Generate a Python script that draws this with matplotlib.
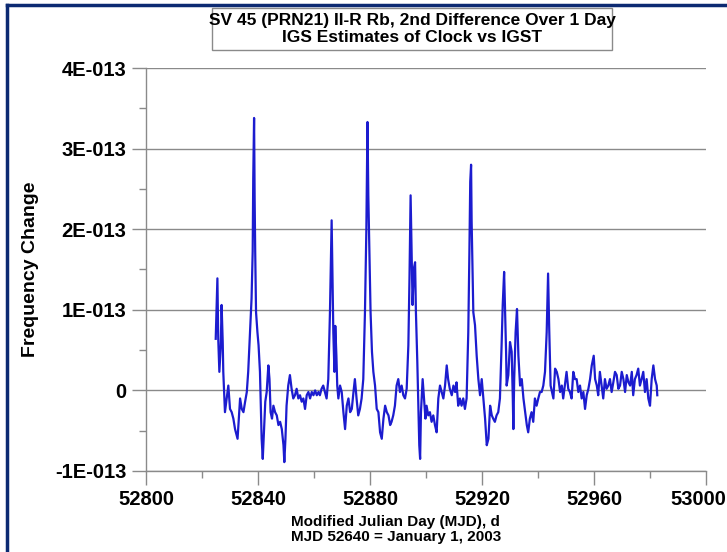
import matplotlib
matplotlib.use("Agg")
import matplotlib.pyplot as plt
import matplotlib.transforms as mtransforms
from matplotlib.lines import Line2D
from matplotlib.patches import Rectangle
import numpy as np

# MJD of each sample
mjd = [
    52824.9, 52825.5, 52825.8, 52826.2, 52826.7, 52827.0, 52827.4, 52827.6, 52827.9, 52828.2,
    52828.8, 52829.4, 52830.0, 52830.6, 52831.2, 52831.8, 52832.4, 52832.7, 52833.0, 52833.6,
    52834.2, 52834.8, 52835.4, 52836.0, 52836.5, 52837.1, 52837.7, 52838.1, 52838.3, 52838.6,
    52838.8, 52839.0, 52839.3, 52839.8, 52840.2, 52840.7, 52840.9, 52841.3, 52841.7, 52842.1,
    52842.6, 52843.1, 52843.7, 52844.1, 52844.5, 52845.0, 52845.5, 52846.1, 52846.7, 52847.3,
    52847.9, 52848.5, 52849.1, 52849.4, 52849.8, 52850.2, 52850.8, 52851.4, 52852.0, 52852.6,
    52853.2, 52853.8, 52854.4, 52855.0, 52855.6, 52856.2, 52856.8, 52857.4, 52858.0, 52858.6,
    52859.2, 52859.8, 52860.4, 52861.0, 52861.6, 52862.1, 52862.7, 52863.3, 52863.9, 52864.5,
    52865.1, 52865.7, 52866.3, 52866.7, 52866.9, 52867.3, 52867.6, 52868.0, 52868.3, 52868.7,
    52869.3, 52869.9, 52870.5, 52871.1, 52871.7, 52872.3, 52872.9, 52873.5, 52874.1, 52874.6,
    52875.2, 52875.8, 52876.4, 52877.0, 52877.6, 52878.2, 52878.7, 52879.1, 52879.4, 52879.8,
    52880.2, 52880.7, 52881.2, 52881.8, 52882.4, 52883.0, 52883.6, 52884.2, 52884.8, 52885.4,
    52886.0, 52886.6, 52887.2, 52887.7, 52888.3, 52888.9, 52889.5, 52890.1, 52890.7, 52891.3,
    52891.9, 52892.5, 52893.1, 52893.7, 52894.1, 52894.5, 52894.9, 52895.2, 52895.7, 52896.1,
    52896.4, 52896.9, 52897.3, 52897.6, 52897.9, 52898.2, 52898.8, 52899.3, 52899.8, 52900.2,
    52900.8, 52901.4, 52902.0, 52902.6, 52903.2, 52903.8, 52904.4, 52905.0, 52905.6, 52906.2,
    52906.8, 52907.4, 52907.9, 52908.5, 52909.2, 52909.8, 52910.4, 52910.9, 52911.5, 52912.1,
    52912.7, 52913.3, 52913.9, 52914.5, 52915.1, 52915.5, 52915.8, 52916.1, 52916.3, 52916.7,
    52916.9, 52917.5, 52918.1, 52918.7, 52919.3, 52919.9, 52920.5, 52921.1, 52921.7, 52922.3,
    52922.9, 52923.5, 52924.0, 52924.6, 52925.2, 52925.8, 52926.4, 52927.0, 52927.4, 52927.9,
    52928.2, 52928.6, 52928.8, 52929.4, 52930.0, 52930.6, 52931.0, 52931.2, 52931.5, 52932.0,
    52932.5, 52933.0, 52933.6, 52934.2, 52934.8, 52935.4, 52936.0, 52936.5, 52937.1, 52937.7,
    52938.3, 52938.9, 52939.5, 52940.1, 52940.7, 52941.3, 52941.9, 52942.5, 52943.1, 52943.6,
    52944.0, 52944.5, 52945.0, 52945.5, 52946.1, 52946.7, 52947.3, 52947.9, 52948.5, 52949.0,
    52949.6, 52950.2, 52950.8, 52951.4, 52952.0, 52952.6, 52953.2, 52953.8, 52954.4, 52955.0,
    52955.6, 52956.2, 52956.8, 52957.4, 52958.0, 52958.6, 52959.2, 52959.9, 52960.4, 52961.0,
    52961.5, 52962.1, 52962.7, 52963.3, 52963.9, 52964.5, 52965.1, 52965.7, 52966.3, 52966.9,
    52967.5, 52968.1, 52968.7, 52969.3, 52969.9, 52970.5, 52971.1, 52971.7, 52972.3, 52972.9,
    52973.5, 52974.0, 52974.6, 52975.2, 52975.8, 52976.4, 52977.0, 52977.6, 52978.2, 52978.8,
    52979.4, 52980.0, 52980.6, 52981.2, 52981.8, 52982.4, 52982.6,
]

# frequency change in units of 1E-013
freq_e13 = [
    0.64, 1.39, 0.64, 0.23, 0.56, 1.06, 0.60, 0.23, -0.02, -0.27,
    -0.10, 0.06, -0.23, -0.27, -0.35, -0.48, -0.56, -0.60, -0.43, -0.10,
    -0.23, -0.27, -0.14, -0.02, 0.23, 0.68, 1.14, 1.72, 2.63, 3.38,
    2.38, 1.72, 0.97, 0.72, 0.56, 0.23, -0.06, -0.60, -0.85, -0.52,
    -0.14, -0.02, 0.31, 0.14, -0.27, -0.35, -0.19, -0.27, -0.31, -0.43,
    -0.39, -0.48, -0.68, -0.89, -0.60, -0.19, 0.06, 0.19, 0.02, -0.10,
    -0.06, 0.02, -0.10, -0.06, -0.14, -0.10, -0.23, -0.06, -0.02, -0.10,
    -0.02, -0.06, 0.00, -0.06, -0.02, -0.06, 0.02, 0.06, -0.02, -0.10,
    0.14, 0.97, 2.11, 1.22, 0.72, 0.23, 0.80, 0.43, 0.06, -0.10,
    0.06, -0.02, -0.27, -0.48, -0.19, -0.10, -0.27, -0.23, -0.02, 0.14,
    -0.10, -0.31, -0.23, -0.10, 0.14, 0.97, 2.00, 3.33, 2.42, 1.72,
    0.97, 0.48, 0.23, 0.06, -0.23, -0.27, -0.52, -0.60, -0.35, -0.19,
    -0.27, -0.31, -0.43, -0.39, -0.31, -0.19, 0.06, 0.14, -0.02, 0.06,
    -0.06, -0.10, 0.02, 0.56, 1.39, 2.42, 1.64, 1.06, 1.52, 1.59,
    0.97, 0.35, -0.27, -0.68, -0.85, -0.27, 0.14, -0.10, -0.35, -0.19,
    -0.31, -0.27, -0.39, -0.31, -0.43, -0.52, -0.10, 0.06, -0.02, -0.10,
    0.06, 0.31, 0.14, 0.02, -0.06, 0.06, -0.02, 0.10, -0.19, -0.10,
    -0.19, -0.10, -0.23, -0.10, 0.72, 1.72, 2.59, 2.80, 2.09, 1.30,
    0.97, 0.81, 0.43, 0.14, -0.06, 0.14, -0.10, -0.35, -0.68, -0.60,
    -0.19, -0.31, -0.35, -0.39, -0.31, -0.27, -0.10, 0.56, 1.06, 1.47,
    1.06, 0.48, 0.06, 0.19, 0.60, 0.48, -0.10, -0.48, 0.14, 0.72,
    1.01, 0.43, 0.06, 0.14, -0.10, -0.27, -0.43, -0.52, -0.35, -0.27,
    -0.39, -0.10, -0.19, -0.10, -0.02, -0.02, 0.06, 0.23, 0.72, 1.45,
    0.77, 0.06, -0.02, -0.10, 0.27, 0.23, 0.14, -0.02, 0.06, -0.10,
    0.06, 0.23, 0.02, -0.02, -0.10, 0.23, 0.14, 0.14, -0.02, 0.06,
    -0.10, -0.02, -0.23, -0.06, 0.02, 0.14, 0.31, 0.43, 0.14, 0.06,
    -0.06, 0.23, 0.06, -0.10, 0.14, 0.02, 0.06, 0.14, -0.02, 0.10,
    0.23, 0.19, 0.02, 0.06, 0.23, 0.14, -0.02, 0.19, 0.10, 0.06,
    0.23, -0.06, 0.14, 0.19, 0.27, 0.06, 0.14, 0.23, -0.02, 0.14,
    -0.10, -0.19, 0.14, 0.31, 0.14, 0.06, -0.06,
]

y_ticks = [-1, 0, 1, 2, 3, 4]
y_tick_labels = ["-1E-013", "0", "1E-013", "2E-013", "3E-013", "4E-013"]
x_ticks = [52800, 52840, 52880, 52920, 52960, 53000]

title_text = "SV 45 (PRN21) II-R Rb, 2nd Difference Over 1 Day\nIGS Estimates of Clock vs IGST"
xlabel_text = "Modified Julian Day (MJD), d\nMJD 52640 = January 1, 2003"
ylabel_text = "Frequency Change"

plt.rcParams["font.family"] = ["Liberation Sans", "DejaVu Sans"]

gray = "#8a8a8a"

fig = plt.figure(figsize=(7.27, 5.52), dpi=100)
ax = fig.add_axes([146 / 727, 1 - 471 / 552, 560 / 727, 403 / 552])

ax.plot(mjd, np.array(freq_e13) * 1e-13, color="#1c1ccf", lw=1.6)

ax.set_xlim(52800, 53000)
ax.set_ylim(-1e-13, 4e-13)
ax.set_yticks([v * 1e-13 for v in y_ticks])
ax.set_yticklabels(y_tick_labels)
ax.set_yticks([v * 1e-13 for v in np.arange(-0.5, 4, 1.0)], minor=True)
ax.set_xticks(x_ticks)
ax.set_xticks(np.arange(52820, 53000, 40), minor=True)

ax.grid(axis="y", color=gray, lw=1)
ax.set_axisbelow(True)
for s in ["top", "right"]:
    ax.spines[s].set_visible(False)
for s in ["left", "bottom"]:
    ax.spines[s].set_color(gray)
    ax.spines[s].set_linewidth(1)

ax.tick_params(which="major", length=10, width=1, color=gray, labelsize=14.5, pad=4)
ax.tick_params(which="minor", length=5, width=1, color=gray)
for lab in ax.get_xticklabels() + ax.get_yticklabels():
    lab.set_fontweight("bold")

# the last x label sits on the right edge; nudge it in so it is not clipped
last = ax.get_xticklabels()[-1]
last.set_transform(last.get_transform() + mtransforms.ScaledTranslation(-8 / 100, 0, fig.dpi_scale_trans))

ax.set_ylabel(ylabel_text, fontsize=14, fontweight="bold", labelpad=12)

fig.text(291 / 727, 1 - 515 / 552, xlabel_text, fontsize=11, fontweight="bold",
         ha="left", va="top", linespacing=1.1)

fig.text(412 / 727, 1 - 29 / 552, title_text, fontsize=12.5, fontweight="bold",
         ha="center", va="center", linespacing=1.1)
fig.add_artist(Rectangle((212 / 727, 1 - 50 / 552), 400 / 727, 42 / 552,
                         transform=fig.transFigure, fill=False, ec=gray, lw=1))

# dark blue frame on the left and top edges
border = "#0c2a72"
fig.add_artist(Line2D([7 / 727, 7 / 727], [0, 1 - 5 / 552], transform=fig.transFigure,
                      color=border, lw=2.5))
fig.add_artist(Line2D([7 / 727, 1], [1 - 5 / 552, 1 - 5 / 552], transform=fig.transFigure,
                      color=border, lw=2.5))

fig.savefig("out.png", dpi=100)
